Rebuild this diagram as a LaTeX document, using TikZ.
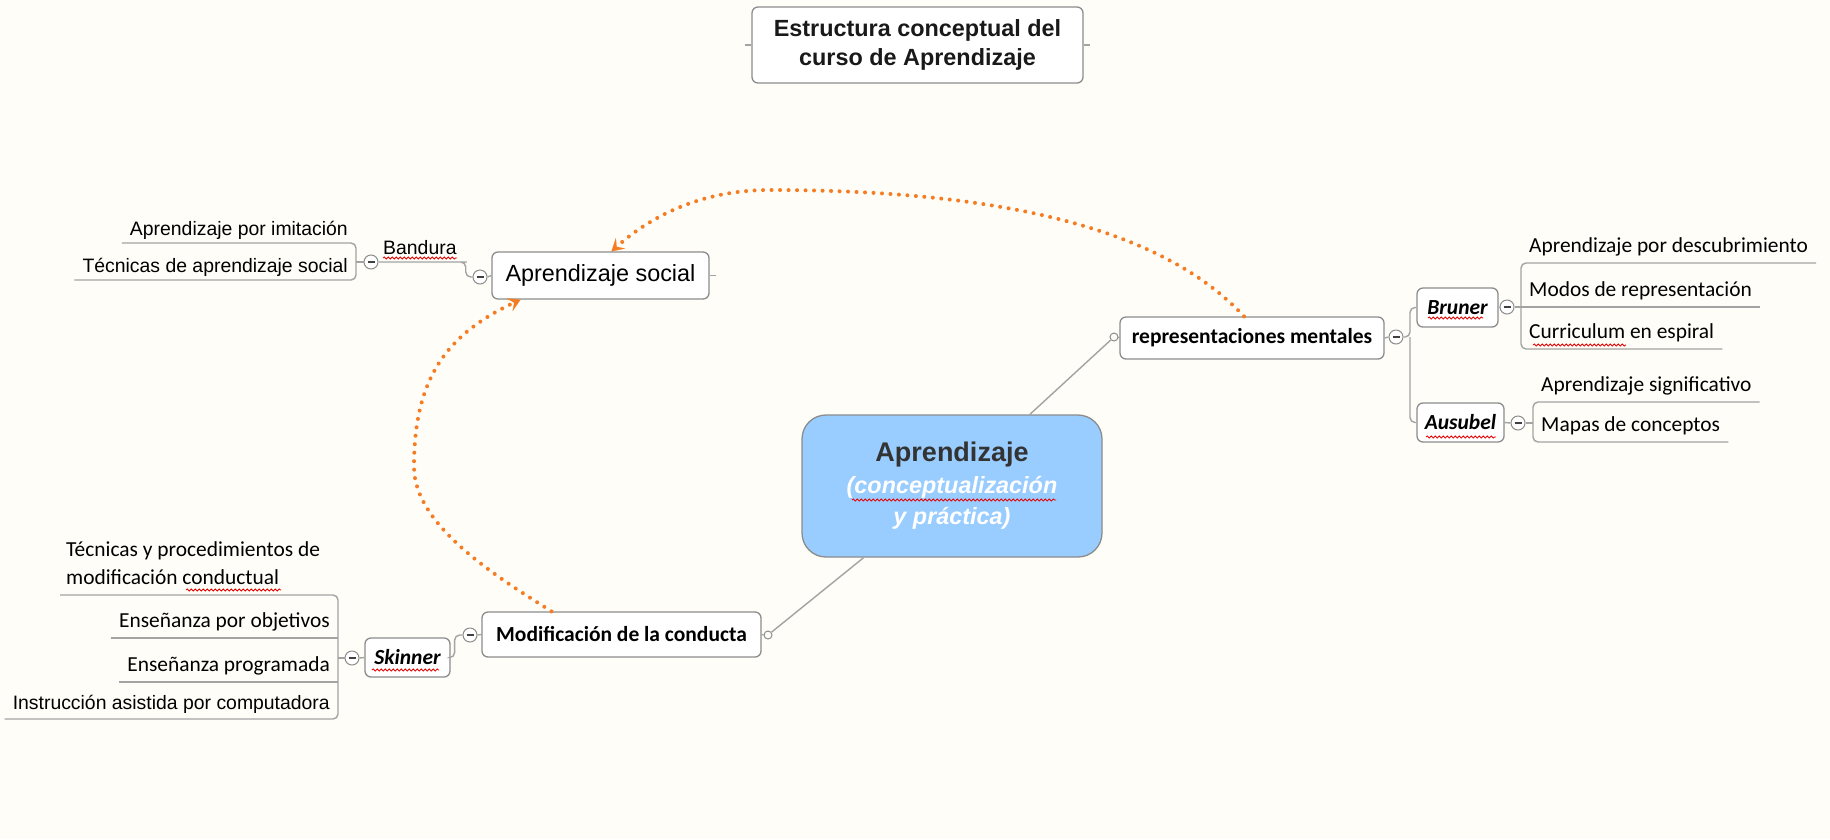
\documentclass[tikz,border=0pt]{standalone}
\usepackage{fontspec}
\setmainfont{Liberation Sans}
\newfontfamily\calibri{Carlito}
\usetikzlibrary{arrows.meta, decorations.pathmorphing}

\definecolor{paper}{HTML}{FEFDF7}
\definecolor{skyfill}{HTML}{99CCFF}
\definecolor{boxline}{HTML}{8C8C8C}
\definecolor{linkgray}{HTML}{A3A3A3}
\definecolor{dotorange}{HTML}{F57C22}
\definecolor{darktext}{HTML}{333333}

\tikzset{
  box/.style={draw=boxline, line width=1.3pt, rounded corners=6pt, fill=white, inner sep=0pt},
  topic/.style={box, font=\calibri\bfseries\fontsize{21.5}{26}\selectfont},
  author/.style={box, font=\calibri\bfseries\itshape\fontsize{21.5}{26}\selectfont},
  leaf/.style={inner xsep=8pt, inner ysep=10pt, text depth=0pt, font=\calibri\fontsize{21.4}{28}\selectfont},
  arleaf/.style={leaf, inner ysep=7pt, font=\fontsize{19.4}{23}\selectfont},
  fold/.style={circle, draw=boxline, fill=white, line width=1pt, minimum size=14pt, inner sep=0pt,
    path picture={\draw[line width=1.5pt, black!75] ([xshift=-3.5pt]path picture bounding box.center) -- ([xshift=3.5pt]path picture bounding box.center);}},
  knob/.style={circle, draw=boxline, fill=paper, line width=1pt, minimum size=8pt, inner sep=0pt},
  link/.style={draw=linkgray, line width=1.4pt},
  branch/.style={link, rounded corners=5pt},
  relation/.style={dotorange, line width=4pt, line cap=round, dash pattern=on 0pt off 8.5pt,
    -{Stealth[length=12pt, width=14pt, inset=5pt, line width=0.1pt]}},
  spell/.style={red!90!black, line width=0.8pt, decorate, decoration={snake, amplitude=1.1pt, segment length=4pt}}
}
\newcommand{\wavyline}[3]{\draw[spell] (#1,#3) -- (#2,#3);}

\begin{document}
\begin{tikzpicture}[x=1pt, y=-1pt]
\fill[paper] (0,0) rectangle (1830,839);
\useasboundingbox (0,0) rectangle (1830,839);

% title
\node[box, minimum width=331pt, minimum height=76pt, align=center, text=black!90,
  font=\bfseries\fontsize{23.4}{29}\selectfont] (title) at (917.5,45) {Estructura conceptual del\\curso de Aprendizaje};
\draw[link] (title.west) -- ++(-6,0);
\draw[link] (title.east) -- ++(6,0);

% central topic
\node[box, fill=skyfill, rounded corners=24pt, minimum width=300pt, minimum height=142pt, align=center,
  text=white, font=\bfseries\fontsize{23.4}{31}\selectfont] (main) at (952,486)
  {{\color{darktext}\fontsize{27}{33}\selectfont Aprendizaje}\\[1pt] \itshape(conceptualización\\ \itshape y práctica)};

% main topics
\node[box, minimum width=217pt, minimum height=47pt, font=\fontsize{23.4}{28}\selectfont] (soc) at (600.5,275.5) {Aprendizaje social};
\node[topic, minimum width=264pt, minimum height=42pt] (rep) at (1252,338) {representaciones mentales};
\node[topic, minimum width=279pt, minimum height=45pt] (mod) at (621.5,634.5) {Modificación de la conducta};
\draw[link] (soc.east) -- ++(6,0);

% authors
\node[author, minimum width=81pt, minimum height=39pt] (bru) at (1457.5,307.5) {Bruner};
\node[author, minimum width=87pt, minimum height=39pt] (aus) at (1460.5,422.5) {Ausubel};
\node[author, minimum width=85pt, minimum height=39pt] (ski) at (407.5,657.5) {Skinner};
\node[arleaf, anchor=south west, inner xsep=5pt] (band) at (378,262) {Bandura};

% fold marks and knobs
\node[fold] (fBand) at (371,262) {};
\node[fold] (fSoc) at (480,277) {};
\node[fold] (fRep) at (1396,337) {};
\node[fold] (fBru) at (1507,307) {};
\node[fold] (fAus) at (1518,423) {};
\node[fold] (fSki) at (352,658) {};
\node[fold] (fMod) at (470,635) {};
\node[knob] (kRep) at (1114,337) {};
\node[knob] (kMod) at (768,635) {};

% leaves right
\node[leaf, anchor=south west] (d1) at (1521,263) {Aprendizaje por descubrimiento};
\node[leaf, anchor=south west] (d2) at (1521,307) {Modos de representación};
\node[leaf, anchor=south west] (d3) at (1521,349) {Curriculum en espiral};
\node[leaf, anchor=south west] (e1) at (1533,402) {Aprendizaje significativo};
\node[leaf, anchor=south west] (e2) at (1533,442) {Mapas de conceptos};

% leaves left
\node[arleaf, anchor=south east] (b1) at (356,243) {Aprendizaje por imitación};
\node[arleaf, anchor=south east] (b2) at (356,280) {Técnicas de aprendizaje social};
\node[leaf, anchor=south west, align=left, inner xsep=6pt] (s1) at (60,595) {Técnicas y procedimientos de\\modificación conductual};
\node[leaf, anchor=south east] (s2) at (338,638) {Enseñanza por objetivos};
\node[leaf, anchor=south east] (s3) at (338,682) {Enseñanza programada};
\node[arleaf, anchor=south east, inner ysep=9pt] (s4) at (338,719) {Instrucción asistida por computadora};

% connectors
\draw[link] (main) -- (kRep);
\draw[link] (main) -- (kMod);
\draw[link] (kRep.east) -- (rep.west);
\draw[link] (rep.east) -- (fRep.west);
\coordinate (repfork) at (1410,337);
\draw[branch] (fRep.east) -- (repfork) |- (bru.west);
\draw[branch] (repfork) |- (aus.west);
\draw[link] (bru.east) -- (fBru.west);
\draw[link] (fBru.east) -- (d2.south west);
\draw[branch] (d1.south east) -- (d1.south west) -- (d3.south west) -- (d3.south east);
\draw[link] (d2.south west) -- (d2.south east);
\draw[link] (aus.east) -- (fAus.west);
\draw[link] (fAus.east) -- (fAus.east -| e1.south west);
\draw[branch] (e1.south east) -- (e1.south west) -- (e2.south west) -- (e2.south east);

\draw[link] (fSoc.east) -- (soc.west);
\draw[branch] (fBand.east) -- (band.south east) -- ++(4,0) |- (fSoc.west);
\draw[link] (fBand.west) -- (fBand.west -| b1.south east);
\draw[branch] (b1.south west) -- (b1.south east) -- (b2.south east) -- (b2.south west);

\draw[link] (mod.east) -- (kMod.west);
\draw[link] (fMod.east) -- (mod.west);
\draw[branch] (ski.east) -- ++(4,0) |- (fMod.west);
\draw[link] (fSki.east) -- (ski.west);
\draw[link] (fSki.west) -- (fSki.west -| s2.south east);
\draw[branch] (s1.south west) -- (s1.south west -| s2.south east) -- (s4.south east) -- (s4.south west);
\draw[link] (s2.south west) -- (s2.south east);
\draw[link] (s3.south west) -- (s3.south east);

% relations
\draw[relation] ([xshift=-8pt]rep.north) .. controls (1162,228) and (1000,190) .. (770,190)
  .. controls (700,190) and (650,217) .. ([xshift=11pt]soc.north);
\draw[relation] ([xshift=-70pt]mod.north) .. controls (502,580) and (414,527) .. (414,467)
  .. controls (414,380) and (445,335) .. ([xshift=-80pt]soc.south);

% spelling marks
\wavyline{383}{457}{258}
\wavyline{1428}{1483}{318}
\wavyline{1426}{1496}{437}
\wavyline{372}{439}{670}
\wavyline{1533}{1626}{345}
\wavyline{186}{281}{590}
\wavyline{852}{1056}{500}
\end{tikzpicture}
\end{document}
